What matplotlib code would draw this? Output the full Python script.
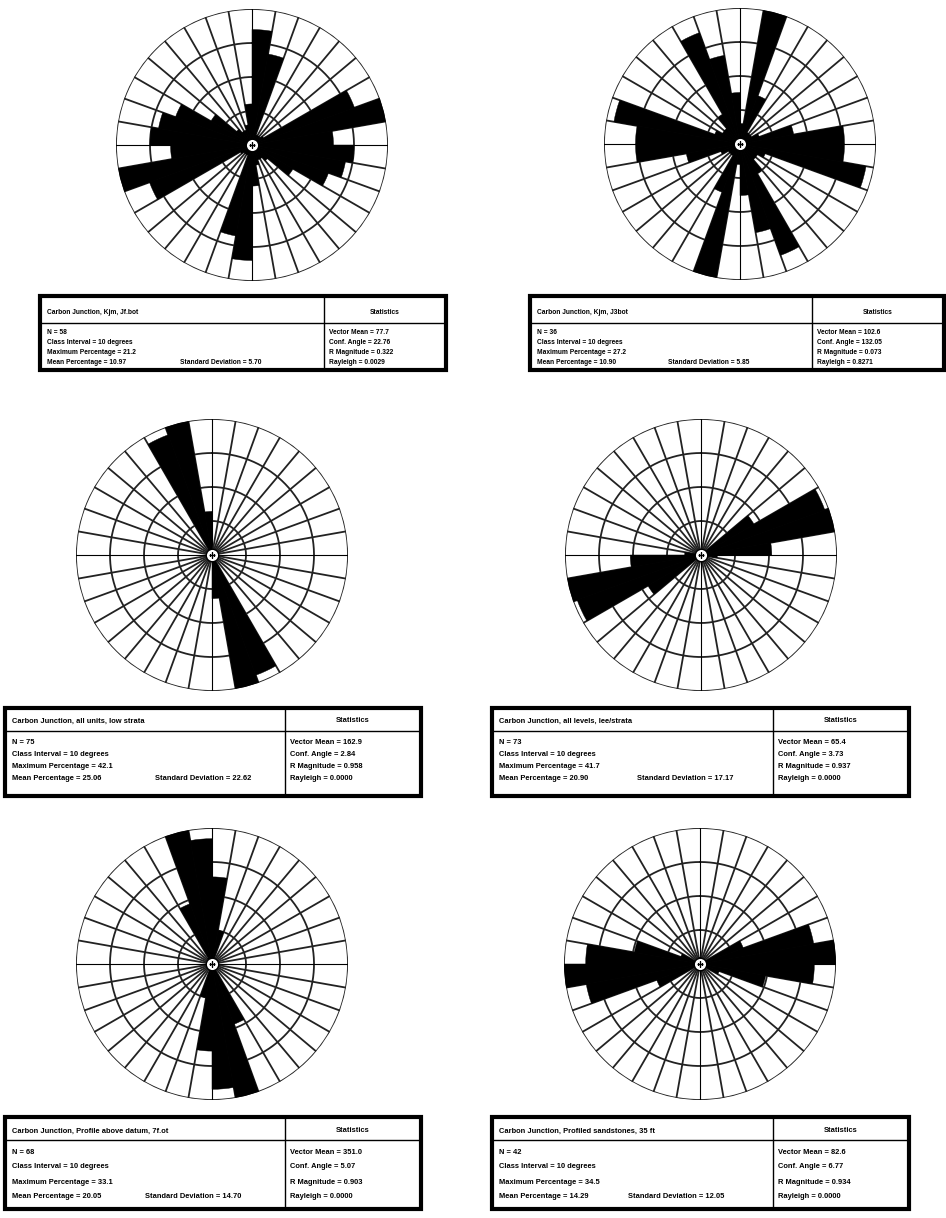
import numpy as np
import matplotlib
matplotlib.use("Agg")
import matplotlib.pyplot as plt

# ---- data: percentage per 10-degree class, 0-180 (axial data, mirrored to 180-360)
bins_deg = list(range(0, 180, 10))

rose_pct = [
    [18.0, 14.4, 1.7, 1.7, 1.7, 2.1, 17.0, 21.2, 12.7, 15.9, 14.8, 12.7, 7.4, 3.2, 2.5, 2.5, 3.2, 6.4],
    [4.1, 27.2, 10.3, 2.7, 2.7, 2.7, 4.1, 10.9, 20.9, 20.9, 25.6, 5.4, 4.1, 4.1, 6.8, 23.7, 18.0, 10.3],
    [0, 0, 0, 0, 0, 0, 0, 0, 0, 0, 0, 0, 0, 0, 2.0, 39.6, 42.1, 13.5],
    [0, 0, 0, 0, 0, 18.8, 40.4, 41.7, 21.7, 5.0, 0, 0, 0, 0, 0, 0, 0, 0],
    [21.2, 8.3, 0, 0, 0, 0, 0, 0, 0, 0, 0, 0, 0, 0, 1.7, 15.6, 33.1, 30.5],
    [1.7, 0, 0, 0, 0, 0, 11.7, 29.3, 34.5, 29.0, 16.9, 5.2, 0, 0, 0, 0, 0, 1.7],
]

titles = [
    "Carbon Junction, Kjm, Jf.bot",
    "Carbon Junction, Kjm, J3bot",
    "Carbon Junction, all units, low strata",
    "Carbon Junction, all levels, lee/strata",
    "Carbon Junction, Profile above datum, 7f.ot",
    "Carbon Junction, Profiled sandstones, 35 ft",
]
n_values = [58, 36, 75, 73, 68, 42]
class_interval = [10, 10, 10, 10, 10, 10]
max_pct = [21.2, 27.2, 42.1, 41.7, 33.1, 34.5]
mean_pct = ["10.97", "10.90", "25.06", "20.90", "20.05", "14.29"]
std_dev = ["5.70", "5.85", "22.62", "17.17", "14.70", "12.05"]
vector_mean = ["77.7", "102.6", "162.9", "65.4", "351.0", "82.6"]
conf_angle = ["22.76", "132.05", "2.84", "3.73", "5.07", "6.77"]
r_magnitude = ["0.322", "0.073", "0.958", "0.937", "0.903", "0.934"]
rayleigh = ["0.0029", "0.8271", "0.0000", "0.0000", "0.0000", "0.0000"]

# ---- layout (pixels)
W, H = 946, 1218
rose_centers = [(252, 145), (740, 144), (212, 555), (701, 555), (212, 964), (700, 964)]
rose_radius = 136

# box: left, top, right, bottom, divider, header y, header line y, row ys, std-dev x, fontsize
boxes = [
    (40, 296, 446, 370, 324, 312, 323, [333, 343, 352, 362], 180, 4.8),
    (530, 296, 944, 370, 812, 312, 323, [333, 343, 352, 362], 668, 4.8),
    (5, 708, 421, 796, 285, 721, 731, [743, 755, 767, 779], 155, 5.4),
    (492, 708, 909, 796, 773, 721, 731, [743, 755, 767, 779], 637, 5.4),
    (5, 1117, 421, 1209, 285, 1131, 1140, [1152, 1167, 1182, 1197], 145, 5.4),
    (492, 1117, 909, 1209, 773, 1131, 1140, [1152, 1167, 1182, 1197], 628, 5.4),
]

plt.rcParams['font.family'] = ['Liberation Sans', 'DejaVu Sans']

fig = plt.figure(figsize=(W / 100, H / 100), dpi=100)
fig.patch.set_facecolor('white')

grid_col = '#222222'


def draw_rose(idx):
    cx, cy = rose_centers[idx]
    R = rose_radius
    ax = fig.add_axes([(cx - R) / W, 1 - (cy + R) / H, 2 * R / W, 2 * R / H],
                      projection='polar')
    ax.set_theta_zero_location('N')
    ax.set_theta_direction(-1)
    rmax = max_pct[idx]
    ax.set_ylim(0, rmax)
    ax.set_xticks([])
    ax.set_yticks([])
    ax.grid(False)
    ax.spines['polar'].set_visible(False)
    ax.set_facecolor('white')

    # rings and spokes
    th = np.linspace(0, 2 * np.pi, 400)
    for frac in (0.25, 0.5, 0.75, 1.0):
        ax.plot(th, np.full_like(th, frac * rmax), color=grid_col, lw=1.3, zorder=1)
    for d in range(0, 360, 10):
        t = np.deg2rad(d)
        if d % 90 == 0:
            ax.plot([t, t], [0, rmax], color='black', lw=0.8, zorder=1)
        else:
            ax.plot([t, t], [0.03 * rmax, rmax], color=grid_col, lw=1.3, zorder=1)

    # petals (mirrored for axial data)
    vals = np.array(rose_pct[idx], dtype=float)
    starts = np.deg2rad(np.array(bins_deg + [b + 180 for b in bins_deg], dtype=float))
    heights = np.concatenate([vals, vals])
    ax.bar(starts, heights, width=np.deg2rad(10), align='edge', bottom=0,
           color='black', edgecolor='black', linewidth=0.3, zorder=2)

    # centre mark
    ax.plot(0, 0, 'o', ms=9, mfc='white', mec='black', mew=1.0, zorder=4)
    ax.plot(0, 0, '+', ms=5, color='black', mew=1.0, zorder=5)


for i in range(6):
    draw_rose(i)

# overlay for statistics tables
ov = fig.add_axes([0, 0, 1, 1])
ov.set_xlim(0, W)
ov.set_ylim(H, 0)
ov.axis('off')

for i, (L, T, Rr, B, D, hy, hl, rows, sx, fs) in enumerate(boxes):
    ov.add_patch(plt.Rectangle((L, T), Rr - L, B - T, fill=False, ec='black', lw=3.0))
    ov.plot([L, Rr], [hl, hl], color='black', lw=1.0)
    ov.plot([D, D], [T, B], color='black', lw=1.0)
    kw = dict(fontsize=fs, fontweight='bold', va='center', color='black')
    ov.text(L + 7, hy, titles[i], ha='left', **kw)
    ov.text((D + Rr) / 2, hy, "Statistics", ha='center', **kw)
    left_lines = [f"N = {n_values[i]}",
                  f"Class Interval = {class_interval[i]} degrees",
                  f"Maximum Percentage = {max_pct[i]}",
                  f"Mean Percentage = {mean_pct[i]}"]
    right_lines = [f"Vector Mean = {vector_mean[i]}",
                   f"Conf. Angle = {conf_angle[i]}",
                   f"R Magnitude = {r_magnitude[i]}",
                   f"Rayleigh = {rayleigh[i]}"]
    for y, a, b in zip(rows, left_lines, right_lines):
        ov.text(L + 7, y, a, ha='left', **kw)
        ov.text(D + 5, y, b, ha='left', **kw)
    ov.text(sx, rows[3], f"Standard Deviation = {std_dev[i]}", ha='left', **kw)

fig.savefig('out.png', dpi=100, facecolor='white')
